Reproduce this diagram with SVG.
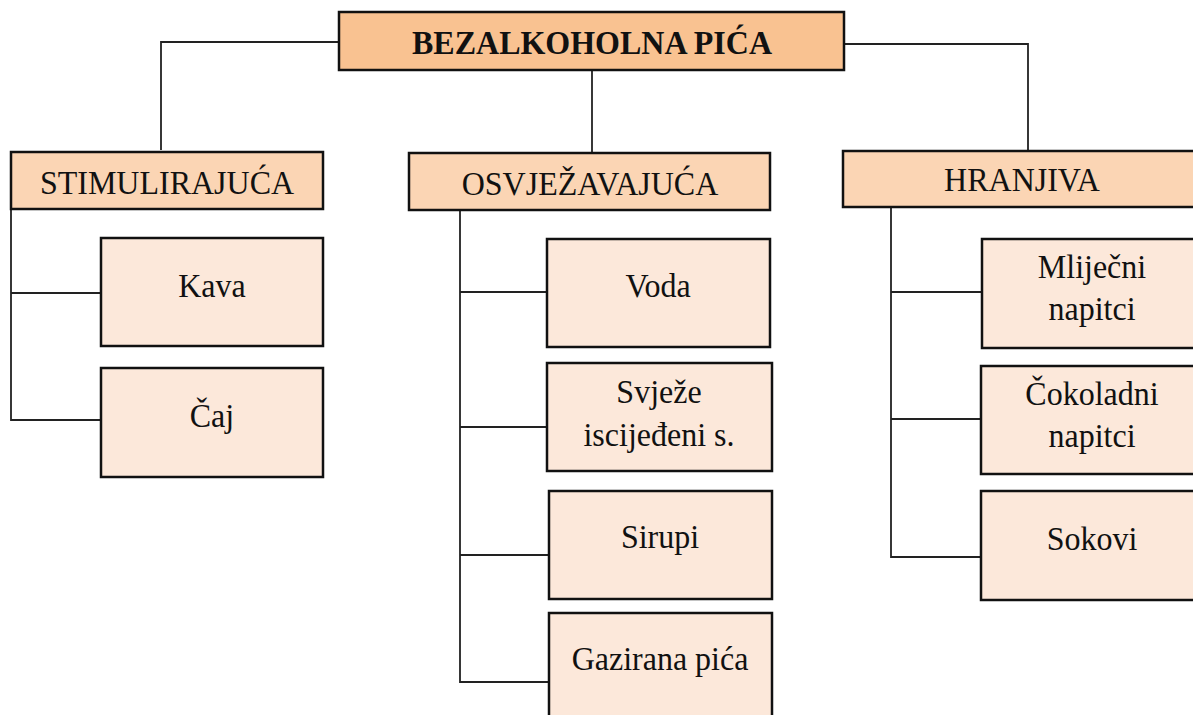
<svg xmlns="http://www.w3.org/2000/svg" width="1193" height="715" viewBox="0 0 1193 715">
<style>
.box{stroke:#111;stroke-width:2.5}
.l1{fill:#F9C291}
.l2{fill:#FBD5B4}
.l3{fill:#FCE8DA}
.t{font-family:"Liberation Serif","Times New Roman",serif;font-size:32px;fill:#111;text-anchor:middle}
.b{font-weight:bold}
.c{fill:none;stroke:#222;stroke-width:1.8}
</style>
<rect width="1193" height="715" fill="#fff"/>
<g id="connectors">
<polyline class="c" points="339,42 161,42 161,150"/>
<line class="c" x1="592" y1="70" x2="592" y2="152"/>
<polyline class="c" points="844,44 1028,44 1028,152"/>
<polyline class="c" points="11,209 11,420 101,420"/>
<line class="c" x1="11" y1="293" x2="101" y2="293"/>
<polyline class="c" points="460,211 460,682 549,682"/>
<line class="c" x1="460" y1="292" x2="547" y2="292"/>
<line class="c" x1="460" y1="427" x2="547" y2="427"/>
<line class="c" x1="460" y1="555" x2="549" y2="555"/>
<polyline class="c" points="891,207 891,557 981,557"/>
<line class="c" x1="891" y1="292" x2="982" y2="292"/>
<line class="c" x1="891" y1="419" x2="981" y2="419"/>
</g>
<g id="root"><rect class="box l1" x="339" y="12" width="505" height="58"/><text class="t b" transform="translate(592,54) scale(1,1.08)">BEZALKOHOLNA PIĆA</text></g>
<g id="stimulirajuca"><rect class="box l2" x="11" y="152" width="312" height="57"/><text class="t" transform="translate(167,194) scale(1,1.08)">STIMULIRAJUĆA</text></g>
<g id="osvjezavajuca"><rect class="box l2" x="409" y="153" width="361" height="57"/><text class="t" transform="translate(590,195) scale(1,1.08)">OSVJEŽAVAJUĆA</text></g>
<g id="hranjiva"><rect class="box l2" x="843" y="151" width="358" height="56"/><text class="t" transform="translate(1022,191) scale(1,1.08)">HRANJIVA</text></g>
<g id="kava"><rect class="box l3" x="101" y="238" width="222" height="108"/><text class="t" transform="translate(212,297) scale(1,1.08)">Kava</text></g>
<g id="caj"><rect class="box l3" x="101" y="368" width="222" height="109"/><text class="t" transform="translate(212,427) scale(1,1.08)">Čaj</text></g>
<g id="voda"><rect class="box l3" x="547" y="239" width="223" height="108"/><text class="t" transform="translate(658,297) scale(1,1.08)">Voda</text></g>
<g id="svjeze"><rect class="box l3" x="547" y="363" width="225" height="108"/><text class="t" transform="translate(659,403) scale(1,1.08)">Svježe</text><text class="t" transform="translate(659,446) scale(1,1.08)">iscijeđeni s.</text></g>
<g id="sirupi"><rect class="box l3" x="549" y="491" width="223" height="108"/><text class="t" transform="translate(660,548) scale(1,1.08)">Sirupi</text></g>
<g id="gazirana"><rect class="box l3" x="549" y="613" width="223" height="110"/><text class="t" transform="translate(660,670) scale(1,1.08)">Gazirana pića</text></g>
<g id="mlijecni"><rect class="box l3" x="982" y="239" width="220" height="109"/><text class="t" transform="translate(1092,278) scale(1,1.08)">Mliječni</text><text class="t" transform="translate(1092,320) scale(1,1.08)">napitci</text></g>
<g id="cokoladni"><rect class="box l3" x="981" y="366" width="221" height="108"/><text class="t" transform="translate(1092,405) scale(1,1.08)">Čokoladni</text><text class="t" transform="translate(1092,447) scale(1,1.08)">napitci</text></g>
<g id="sokovi"><rect class="box l3" x="981" y="491" width="221" height="109"/><text class="t" transform="translate(1092,550) scale(1,1.08)">Sokovi</text></g>
</svg>
